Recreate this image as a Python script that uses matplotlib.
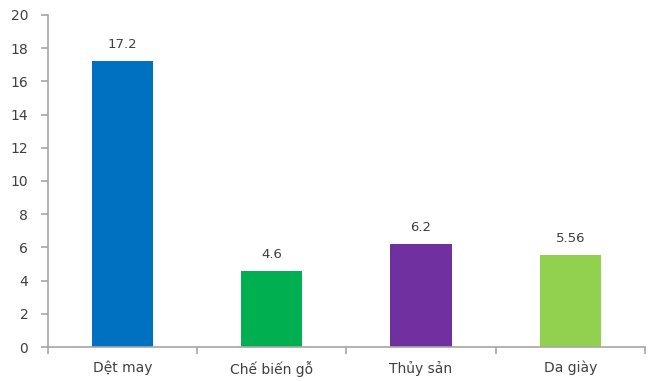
import matplotlib.pyplot as plt
import numpy as np

categories = ["Dệt may", "Chế biến gỗ", "Thủy sản", "Da giày"]
values = [17.2, 4.6, 6.2, 5.56]
labels = ["17.2", "4.6", "6.2", "5.56"]
colors = ["#0070C0", "#00B050", "#7030A0", "#92D050"]

plt.rcParams['font.family'] = 'DejaVu Sans'
text_color = '#404040'
axis_color = '#A6A6A6'

fig = plt.figure(figsize=(6.54, 3.81), dpi=100)
ax = fig.add_axes([0.073, 0.089, 0.913, 0.872])

x = np.arange(len(categories))
bars = ax.bar(x, values, width=0.41, color=colors, zorder=2)
for b, lab in zip(bars, labels):
    ax.text(b.get_x() + b.get_width() / 2, b.get_height() + 0.6, lab,
            ha='center', va='bottom', fontsize=9.5, color=text_color)

ax.set_xlim(-0.5, len(categories) - 0.5)
ax.set_ylim(0, 20)
ax.set_yticks(np.arange(0, 21, 2))
ax.set_xticks(x)
ax.set_xticklabels(categories)
ax.set_xticks(np.arange(-0.5, len(categories), 1), minor=True)

for s in ['top', 'right']:
    ax.spines[s].set_visible(False)
for s in ['left', 'bottom']:
    ax.spines[s].set_color(axis_color)
    ax.spines[s].set_linewidth(1.2)

ax.tick_params(axis='x', which='major', length=0, pad=10,
               labelsize=10, labelcolor=text_color)
ax.tick_params(axis='x', which='minor', length=5, color=axis_color, width=1.2)
ax.tick_params(axis='y', length=5, color=axis_color, width=1.2, pad=9,
               labelsize=10, labelcolor=text_color)

fig.savefig("out.png", dpi=100)
